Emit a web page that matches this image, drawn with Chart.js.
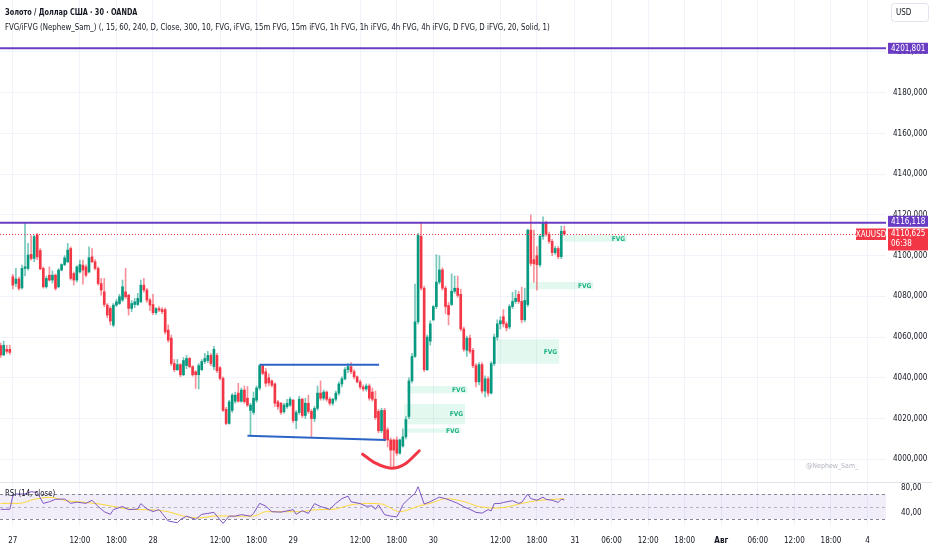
<!DOCTYPE html>
<html>
<head>
<meta charset="utf-8">
<title>XAUUSD 30</title>
<script src="https://cdn.jsdelivr.net/npm/chart.js@4.4.1/dist/chart.umd.min.js"></script>
<style>
  html, body { margin: 0; padding: 0; background: #ffffff; }
  #wrap { position: relative; width: 932px; height: 550px; overflow: hidden;
          font-family: "Liberation Sans Narrow", "DejaVu Sans Condensed", "Liberation Sans", sans-serif; color: #131722; }
  canvas { position: absolute; left: 0; }
  #priceCanvas { top: 0; }
  #rsiCanvas { top: 482px; }
  .legend { position: absolute; left: 5px; white-space: nowrap; line-height: 1; transform-origin: 0 50%; }
  #title { top: 7px; font-size: 9.5px; font-weight: bold; transform: scaleX(0.765); }
  #study { top: 22px; font-size: 9.5px; transform: scaleX(0.82); }
  #rsiTitle { top: 489px; font-size: 9px; transform: scaleX(0.86); }
  #mark { position: absolute; left: 806px; top: 462px; font-size: 7px; color: #b2b5be; white-space: nowrap; }
</style>
</head>
<body>
<div id="wrap">
  <canvas id="priceCanvas" width="932" height="482"></canvas>
  <canvas id="rsiCanvas" width="932" height="68"></canvas>
  <div class="legend" id="title">Золото / Доллар США · 30 · OANDA</div>
  <div class="legend" id="study">FVG/iFVG (Nephew_Sam_) (, 15, 60, 240, D, Close, 300, 10, FVG, iFVG, 15m FVG, 15m iFVG, 1h FVG, 1h iFVG, 4h FVG, 4h iFVG, D FVG, D iFVG, 20, Solid, 1)</div>
  <div class="legend" id="rsiTitle">RSI (14, close)</div>
  <div id="mark">@Nephew_Sam_</div>
</div>
<script>
// 30 min bars, Friday close + 27..30 July (bar index = position on the time axis)
const opens = [4055.8, 4051.2, 4054, 4054, 4089.6, 4086.3, 4088.5, 4084.2, 4093.7, 4093.7,
  4100.6, 4098.6, 4110.1, 4102.5, 4093.7, 4084.7, 4090.4, 4088, 4090.4, 4084.7,
  4092.9, 4095.6, 4097, 4103.5, 4091.2, 4088, 4092, 4095.3, 4094.5, 4092,
  4099.4, 4097, 4093.7, 4086.3, 4082.2, 4075.7, 4074.1, 4065.9, 4075.7, 4076.5,
  4078.2, 4082.2, 4080.6, 4074.1, 4076, 4076, 4077.3, 4085.5, 4083.1, 4078.2,
  4076, 4072, 4074, 4073.5, 4073.5, 4063.5, 4059.5, 4047, 4044, 4046.5,
  4041.5, 4046, 4049.5, 4045.5, 4043, 4041.5, 4044, 4048, 4048.5, 4051,
  4045.5, 4051, 4045, 4039.7, 4024.5, 4017.6, 4024, 4028.5, 4032.5, 4028.5,
  4034, 4030, 4024, 4023, 4029, 4035, 4046, 4043, 4040, 4038.5,
  4037, 4028.2, 4027.5, 4023.4, 4025.8, 4026.6, 4029, 4019, 4023, 4029.5,
  4021.5, 4027.5, 4023.5, 4020, 4025, 4032.5, 4030, 4033, 4029.5, 4027.5,
  4029.5, 4032.5, 4037, 4039.5, 4044, 4045.5, 4043, 4040.5, 4038, 4035.5,
  4034.5, 4036, 4033, 4029.5, 4023.5, 4014, 4024, 4014.5, 4009.5, 4009.5,
  4009.5, 4003, 4006.5, 4011, 4021, 4038.5, 4050.5, 4067.5, 4109.5, 4084,
  4044, 4058, 4068.5, 4075, 4087, 4093, 4084, 4075.5, 4076, 4082.5,
  4084, 4081, 4064, 4053.5, 4059.5, 4053.5, 4046, 4038, 4046.5, 4033.5,
  4039.5, 4032.5, 4047, 4060, 4066.5, 4070, 4066.5, 4065, 4075, 4077.5,
  4081, 4077.5, 4068.5, 4076, 4112.5, 4098, 4100, 4095.5, 4109.5, 4116,
  4110.5, 4107, 4101.5, 4103.5, 4099.5, 4112];
const highs = [4057, 4058, 4056, 4056, 4090.8, 4093.7, 4089.5, 4095.3, 4116, 4106,
  4109.8, 4110, 4111, 4103.5, 4094.5, 4090, 4094.5, 4092.5, 4091, 4093.7,
  4096, 4100, 4106, 4104.3, 4092, 4095, 4097.8, 4097.8, 4095.5, 4104.3,
  4103.5, 4098, 4094.5, 4088.8, 4088.8, 4076.5, 4075, 4076.5, 4078.5, 4081,
  4088, 4093.7, 4081, 4078, 4079, 4081.5, 4088, 4088.8, 4084, 4079,
  4081, 4074.5, 4075, 4074.5, 4074.3, 4066, 4061, 4049, 4049, 4047,
  4050, 4051, 4050, 4046, 4043.5, 4047, 4049, 4052, 4053, 4052,
  4055.5, 4052, 4045.5, 4040.5, 4025.5, 4029, 4032.3, 4033, 4037.3, 4035,
  4036, 4035.7, 4027.5, 4033, 4036, 4046.8, 4046.5, 4044.6, 4042, 4039,
  4037.5, 4029, 4028, 4027.5, 4029.5, 4030.5, 4029.5, 4024, 4031, 4030,
  4030, 4031.5, 4024.5, 4026, 4036, 4038.5, 4034, 4033.5, 4030.5, 4030,
  4033.5, 4038, 4040.5, 4045, 4047, 4047.5, 4044, 4041, 4039, 4036.5,
  4037, 4037, 4035, 4033.5, 4024.5, 4025, 4025, 4015.5, 4010.5, 4010,
  4011, 4010, 4015, 4021, 4040, 4052, 4086, 4111, 4116, 4085,
  4061, 4068, 4075.5, 4100.5, 4100, 4094, 4085, 4077, 4091, 4090,
  4090, 4083.5, 4065, 4060.5, 4061, 4054.5, 4047, 4047.5, 4047.5, 4041,
  4040.5, 4048, 4061.5, 4068.5, 4070, 4073.5, 4067.5, 4076, 4082, 4083,
  4082.5, 4084.5, 4084, 4113, 4120, 4112.5, 4104.5, 4110.5, 4119, 4117,
  4111.5, 4108, 4104.5, 4104.5, 4114.5, 4114.5];
const lows = [4050, 4051, 4052, 4051.5, 4083.6, 4084.7, 4083, 4083.5, 4090, 4092.9,
  4097.8, 4097, 4098, 4093, 4084, 4084, 4087.5, 4086.5, 4083, 4084.2,
  4092.5, 4095, 4096.5, 4088, 4085.5, 4087, 4091.5, 4086, 4089.5, 4091.5,
  4096.5, 4093, 4085.5, 4080.6, 4074.9, 4069.5, 4066, 4065.1, 4075, 4076,
  4077.5, 4079, 4070.8, 4072.5, 4074.5, 4075.5, 4077, 4082, 4077, 4073,
  4071, 4071, 4072.5, 4071.5, 4061.5, 4057.5, 4046, 4043, 4043.5, 4040.5,
  4041, 4044.5, 4045, 4040.8, 4034.8, 4034.5, 4043.5, 4047, 4047.5, 4046,
  4044, 4042.5, 4039, 4023.5, 4017, 4017.3, 4023, 4027.5, 4028, 4028,
  4027.5, 4025.8, 4011.9, 4022, 4028, 4034, 4041.5, 4035.7, 4036, 4035.5,
  4026, 4024.5, 4022, 4022.5, 4025, 4026, 4018, 4015, 4022, 4020.5,
  4020, 4022.5, 4010.8, 4018.5, 4024, 4029, 4029, 4028.5, 4026.5, 4026.5,
  4028.5, 4031.5, 4035.5, 4039, 4042.5, 4042, 4039.5, 4037.5, 4034.5, 4033.5,
  4033.5, 4029, 4028.5, 4019.5, 4013, 4013, 4009, 4006, 3996.5, 3996,
  4002, 4002.5, 4006, 4010, 4020, 4037.5, 4050, 4066.5, 4083, 4043,
  4043.5, 4056, 4068, 4074, 4086, 4083, 4071.5, 4066, 4075.5, 4081.5,
  4079.5, 4063, 4053, 4050.5, 4052, 4045, 4035.5, 4036.5, 4032.5, 4030.5,
  4031, 4032, 4046, 4058.5, 4064, 4065, 4063, 4064, 4074, 4076.5,
  4076.5, 4067, 4067.5, 4075, 4095, 4087, 4083, 4094.5, 4108, 4109.5,
  4106, 4100, 4100.5, 4098.5, 4098.5, 4110];
const closes = [4051.2, 4056, 4053, 4052.5, 4085.5, 4088.5, 4083.9, 4093.7, 4094.5, 4100.3,
  4098.6, 4109.3, 4099.4, 4093.5, 4084.7, 4088.8, 4088, 4090.4, 4083.9, 4092.9,
  4095.6, 4098.9, 4102.7, 4088.8, 4088, 4094.5, 4095.6, 4092.9, 4090.4, 4099,
  4097, 4093.7, 4086.3, 4083.1, 4076, 4070.8, 4067.9, 4075.7, 4077.3, 4079.8,
  4084.7, 4079.8, 4074.1, 4076.5, 4077.3, 4079, 4085.5, 4083.1, 4078.2, 4075.7,
  4072, 4074, 4073.3, 4072.5, 4062.5, 4058.5, 4047, 4044, 4046.5, 4041.5,
  4048.5, 4049.5, 4045.5, 4041.5, 4041.5, 4046, 4048, 4049.5, 4051, 4047,
  4054, 4043.5, 4039.7, 4024, 4017.6, 4028.2, 4031.5, 4031.5, 4028.5, 4034,
  4028.3, 4026.6, 4026.6, 4030, 4035, 4046, 4042.2, 4037.3, 4037.5, 4036.4,
  4027.5, 4025.8, 4023, 4026.6, 4027.5, 4029.5, 4019, 4023, 4029.5, 4021.5,
  4027.5, 4023.5, 4020, 4025, 4032.5, 4030, 4033, 4029.5, 4027.5, 4029.5,
  4032.5, 4037, 4039.5, 4044, 4045.5, 4043, 4040.5, 4038, 4035.5, 4034.5,
  4036, 4030, 4029.5, 4020.5, 4014, 4024, 4010, 4009.5, 4004.5, 4004.5,
  4003, 4009.5, 4011, 4019.5, 4038.5, 4050.5, 4067.5, 4110, 4084, 4044,
  4060, 4066.5, 4075, 4087, 4093, 4084, 4075, 4071, 4082.5, 4084,
  4080.5, 4064, 4054, 4059.5, 4053, 4046, 4038, 4046.5, 4033.5, 4039.5,
  4032.5, 4047, 4060, 4066.5, 4068, 4066.5, 4064.5, 4075, 4077.5, 4079,
  4077.5, 4068.5, 4078, 4112.5, 4096.2, 4096, 4095.5, 4109.5, 4116, 4110.5,
  4107, 4101.5, 4103.5, 4099.5, 4112, 4110.625];

// time axis
const tickIdx = [4, 26, 38, 50, 72, 84, 96, 118, 130, 142, 164, 176, 188.5, 200.5, 212.5, 224.5, 236.5, 248.5, 260.5, 272.5, 284.5];
const tickText = ['27', '12:00', '18:00', '28', '12:00', '18:00', '29', '12:00', '18:00', '30', '12:00', '18:00',
  '31', '06:00', '12:00', '18:00', 'Авг', '06:00', '12:00', '18:00', '4'];
const priceTicks = [4000, 4020, 4040, 4060, 4080, 4100, 4120, 4140, 4160, 4180, 4200];

// drawn levels and lines
const levelPrices = [4201.801, 4116.118];
const lastPrice = 4110.625;
const countdown = '06:38';
const topLineX = [85.1, 124.2], topLineY = [4046.4, 4046.4];
const baseLineX = [81, 126.4], baseLineY = [4011.6, 4009.5];
const smileX = [118.8, 122.9, 128.3, 132.7, 137.4];
const smileY = [4002.5, 3998.2, 3995.6, 3997.7, 4004.2];

// fair value gaps
const fvgStart = [133.3, 132.4, 133.3, 162.8, 172.6, 184.9];
const fvgEnd = [153.2, 152.4, 151.2, 183.3, 194.5, 205.6];
const fvgTop = [4036.0, 4027.2, 4015.2, 4058.9, 4087.1, 4110.1];
const fvgBottom = [4032.4, 4017.2, 4013.1, 4046.9, 4083.5, 4106.8];

// RSI pane
const rsiIdx = [0, 3, 4, 5, 8, 10, 12, 14, 16, 18, 21, 23, 25, 28, 30, 32, 34, 36, 37, 40,
  42, 45, 46, 48, 50, 52, 53, 55, 58, 59, 61, 64, 66, 68, 70, 71, 73, 75, 77, 79,
  82, 83, 85, 87, 89, 92, 94, 96, 97, 99, 101, 103, 105, 108, 110, 112, 114, 115, 118, 120,
  122, 123, 124, 126, 128, 130, 131, 132, 134, 136, 137, 139, 141, 143, 144, 146, 148, 150, 152, 154,
  156, 158, 160, 161, 162, 164, 165, 168, 170, 171, 173, 174, 176, 178, 179, 181, 183, 184, 185];
const rsiVal = [45.5, 45.5, 66.8, 70, 70, 73.7, 72.5, 55, 57.7, 61.5, 62, 55, 57, 55, 60, 50, 41.7, 37.5, 45, 50,
  45, 46, 54.6, 46, 42, 45, 39, 26.8, 24, 29, 34.6, 29.4, 37.5, 39, 40.6, 34.6, 23, 34.6, 34.6, 37,
  34.6, 39, 55, 50.7, 41.7, 41, 43, 45, 37.6, 43.3, 39, 54.6, 50, 45.5, 55, 62.6, 66.6, 57.6, 54.6, 50.4,
  51, 45.5, 52.6, 37, 34.6, 33.5, 42, 53, 62.6, 71, 81.7, 54, 57.7, 62.6, 65, 62.6, 59, 55, 49.6, 45.5,
  40.6, 39.4, 45, 43, 54.6, 55, 56.5, 59.3, 55, 56.5, 70, 62.6, 60, 65, 61.5, 60, 56.5, 61.6, 60.5];
const maIdx = [0, 6, 11, 16, 22, 27, 33, 38, 43, 49, 55, 60, 65, 71, 76, 83, 87, 93, 98, 104,
  109, 115, 120, 125, 131, 137, 142, 146, 153, 156, 162, 166, 171, 177, 182, 185];
const maVal = [55, 55, 61.5, 64.6, 59, 57, 53.6, 49.2, 45.5, 44.6, 41.7, 34.6, 31.7, 35, 34.6, 34.6, 41.7, 41.7, 41.7, 45,
  45.5, 52.6, 55, 54, 41.7, 50.4, 56.5, 62.6, 56.5, 51, 47.5, 49, 55, 60, 61.5, 62.6];
const rsiLevels = [30, 50, 70];
const rsiTicks = [40, 80];

const FONT = '"Liberation Sans Narrow", "DejaVu Sans Condensed", "Liberation Sans", sans-serif';
const TEXT = '#131722';
const GRID = '#f0f3fa';
const UP = '#089981', DOWN = '#f23645';
const PURPLE = '#6a3cc4';
const AXIS_W = 46;
const xMin = -0.213, xMax = 290.57;

Chart.defaults.font.family = FONT;
Chart.defaults.color = TEXT;

const comma = (v, d) => v.toFixed(d).replace('.', ',');

// candle pieces as floating bars
const bars = closes.map((c, i) => i);
const wickData = bars.map(i => ({ x: i, y: [lows[i], highs[i]] }));
const bodyData = bars.map(i => ({ x: i, y: [opens[i], closes[i]] }));
const bodyColors = bars.map(i => closes[i] >= opens[i] ? UP : DOWN);
const wickColors = bars.map(i => closes[i] >= opens[i] ? 'rgba(8,153,129,0.55)' : 'rgba(242,54,69,0.55)');

const pairs = (xs, ys) => xs.map((x, k) => ({ x: x, y: ys[k] }));

// keep the plot area edge to edge, no room for half labels
const noPadY = s => { s.width = AXIS_W; s.paddingTop = 0; s.paddingBottom = 0; };

function tag(ctx, x, y, w, h, bg, lines) {
  ctx.fillStyle = bg;
  ctx.fillRect(x, y, w, h);
  ctx.fillStyle = '#ffffff';
  ctx.font = '8px ' + FONT;
  ctx.textAlign = 'left';
  ctx.textBaseline = 'middle';
  lines.forEach((t, k) => ctx.fillText(t, x + 3, y + 5.8 + k * 10));
}

const priceOverlay = {
  id: 'priceOverlay',
  beforeDatasetsDraw(chart) {
    const { ctx, scales: { x, y } } = chart;
    ctx.save();
    fvgStart.forEach((s, k) => {
      const x0 = x.getPixelForValue(s), x1 = x.getPixelForValue(fvgEnd[k]);
      const y0 = y.getPixelForValue(fvgTop[k]), y1 = y.getPixelForValue(fvgBottom[k]);
      ctx.fillStyle = 'rgba(0, 200, 110, 0.11)';
      ctx.fillRect(x0, y0, x1 - x0, y1 - y0);
      ctx.fillStyle = 'rgba(8, 170, 120, 0.9)';
      ctx.font = 'bold 6.5px ' + FONT;
      ctx.textAlign = 'right';
      ctx.textBaseline = 'middle';
      ctx.fillText('FVG', x1 - 2, (y0 + y1) / 2 + 0.5);
    });
    ctx.restore();
  },
  afterDatasetsDraw(chart) {
    const { ctx, chartArea: a, scales: { y } } = chart;
    ctx.save();
    ctx.strokeStyle = PURPLE;
    ctx.lineWidth = 2;
    levelPrices.forEach(p => {
      const py = y.getPixelForValue(p);
      ctx.beginPath(); ctx.moveTo(a.left, py); ctx.lineTo(a.right, py); ctx.stroke();
    });
    const ly = Math.round(y.getPixelForValue(lastPrice)) + 0.5;
    ctx.strokeStyle = DOWN;
    ctx.lineWidth = 1;
    ctx.setLineDash([1, 2]);
    ctx.beginPath(); ctx.moveTo(a.left, ly); ctx.lineTo(856, ly); ctx.stroke();
    ctx.restore();
  },
  afterDraw(chart) {
    const { ctx, chartArea: a, scales: { y } } = chart;
    ctx.save();
    const ax = a.right + 2;
    const p0 = y.getPixelForValue(levelPrices[0]);
    tag(ctx, ax, p0 - 5.5, 40, 11, PURPLE, [comma(levelPrices[0], 3)]);
    const p1 = y.getPixelForValue(levelPrices[1]);
    tag(ctx, ax, p1 - 7, 40, 11, PURPLE, [comma(levelPrices[1], 3)]);
    const pl = y.getPixelForValue(lastPrice);
    tag(ctx, ax, pl - 5.5, 40, 22, DOWN, [comma(lastPrice, 3), countdown]);
    ctx.fillStyle = DOWN;
    ctx.fillRect(856, pl - 5.5, 30, 11.5);
    ctx.fillStyle = '#ffffff';
    ctx.font = '8px ' + FONT;
    ctx.textAlign = 'center';
    ctx.textBaseline = 'middle';
    ctx.fillText('XAUUSD', 871, pl + 0.5);
    // currency button
    ctx.fillStyle = '#ffffff';
    ctx.strokeStyle = '#e0e3eb';
    ctx.lineWidth = 1;
    ctx.beginPath();
    ctx.roundRect(891.5, 3.5, 37, 18, 3);
    ctx.fill(); ctx.stroke();
    ctx.fillStyle = TEXT;
    ctx.textAlign = 'left';
    ctx.fillText('USD', 896, 13);
    ctx.restore();
  }
};

new Chart(document.getElementById('priceCanvas'), {
  type: 'bar',
  data: {
    datasets: [
      { type: 'line', data: pairs(topLineX, topLineY), borderColor: '#2b63c6', borderWidth: 2, pointRadius: 0, order: 0 },
      { type: 'line', data: pairs(baseLineX, baseLineY), borderColor: '#2b63c6', borderWidth: 2, pointRadius: 0, order: 0 },
      { type: 'line', data: pairs(smileX, smileY), borderColor: DOWN, borderWidth: 3, pointRadius: 0,
        cubicInterpolationMode: 'monotone', borderCapStyle: 'round', order: 0 },
      { data: bodyData, backgroundColor: bodyColors, barThickness: 2, minBarLength: 1, grouped: false, order: 1 },
      { data: wickData, backgroundColor: wickColors, barThickness: 1, grouped: false, order: 2 }
    ]
  },
  options: {
    responsive: false,
    animation: false,
    layout: { padding: 0 },
    plugins: { legend: { display: false }, tooltip: { enabled: false } },
    scales: {
      x: {
        type: 'linear', min: xMin, max: xMax, offset: false,
        ticks: { display: false },
        grid: { color: GRID, drawTicks: false, offset: false },
        border: { display: false },
        afterBuildTicks: s => { s.ticks = tickIdx.map(v => ({ value: v })); },
        afterFit: s => { s.height = 0; s.paddingLeft = 0; s.paddingRight = 0; }
      },
      y: {
        position: 'right', min: 3988.85, max: 4225.51,
        ticks: { padding: 7, font: { size: 8 }, color: TEXT, callback: v => comma(v, 3) },
        grid: { color: GRID, drawTicks: false },
        border: { display: false },
        afterBuildTicks: s => { s.ticks = priceTicks.map(v => ({ value: v })); },
        afterFit: noPadY
      }
    }
  },
  plugins: [priceOverlay]
});

const rsiOverlay = {
  id: 'rsiOverlay',
  beforeDatasetsDraw(chart) {
    const { ctx, chartArea: a, scales: { y } } = chart;
    ctx.save();
    const yHi = y.getPixelForValue(rsiLevels[2]), yLo = y.getPixelForValue(rsiLevels[0]);
    ctx.fillStyle = 'rgba(126, 87, 194, 0.1)';
    ctx.fillRect(a.left, yHi, a.right - a.left, yLo - yHi);
    ctx.setLineDash([3, 3]);
    ctx.lineWidth = 1;
    rsiLevels.forEach((lv, k) => {
      const py = Math.round(y.getPixelForValue(lv)) + 0.5;
      ctx.strokeStyle = k === 1 ? 'rgba(120,123,134,0.5)' : 'rgba(120,123,134,0.9)';
      ctx.beginPath(); ctx.moveTo(a.left, py); ctx.lineTo(a.right, py); ctx.stroke();
    });
    ctx.restore();
  },
  afterDraw(chart) {
    const { ctx } = chart;
    ctx.save();
    ctx.strokeStyle = '#e0e3eb';
    ctx.lineWidth = 1;
    ctx.beginPath(); ctx.moveTo(0, 0.5); ctx.lineTo(932, 0.5); ctx.stroke();
    ctx.restore();
  }
};

new Chart(document.getElementById('rsiCanvas'), {
  type: 'line',
  data: {
    datasets: [
      { data: pairs(rsiIdx, rsiVal), borderColor: '#7e57c2', borderWidth: 1, pointRadius: 0, tension: 0 },
      { data: pairs(maIdx, maVal), borderColor: '#fdd835', borderWidth: 1, pointRadius: 0, cubicInterpolationMode: 'monotone' }
    ]
  },
  options: {
    responsive: false,
    animation: false,
    layout: { padding: 0 },
    plugins: { legend: { display: false }, tooltip: { enabled: false } },
    scales: {
      x: {
        type: 'linear', min: xMin, max: xMax, offset: false,
        ticks: {
          padding: 10, autoSkip: false, maxRotation: 0, color: TEXT,
          font: c => ({ size: 8, weight: c.tick && tickText[tickIdx.indexOf(c.tick.value)] === 'Авг' ? 'bold' : 'normal' }),
          callback: v => tickText[tickIdx.indexOf(v)]
        },
        grid: { color: GRID, drawTicks: false, offset: false },
        border: { display: false },
        afterBuildTicks: s => { s.ticks = tickIdx.map(v => ({ value: v })); },
        afterFit: s => { s.height = 24; s.paddingLeft = 0; s.paddingRight = 0; }
      },
      y: {
        position: 'right', min: 18.8, max: 89.2,
        ticks: { padding: 7, font: { size: 8 }, color: TEXT, callback: v => comma(v, 2) },
        grid: { display: false },
        border: { display: false },
        afterBuildTicks: s => { s.ticks = rsiTicks.map(v => ({ value: v })); },
        afterFit: noPadY
      }
    }
  },
  plugins: [rsiOverlay]
});
</script>
</body>
</html>
